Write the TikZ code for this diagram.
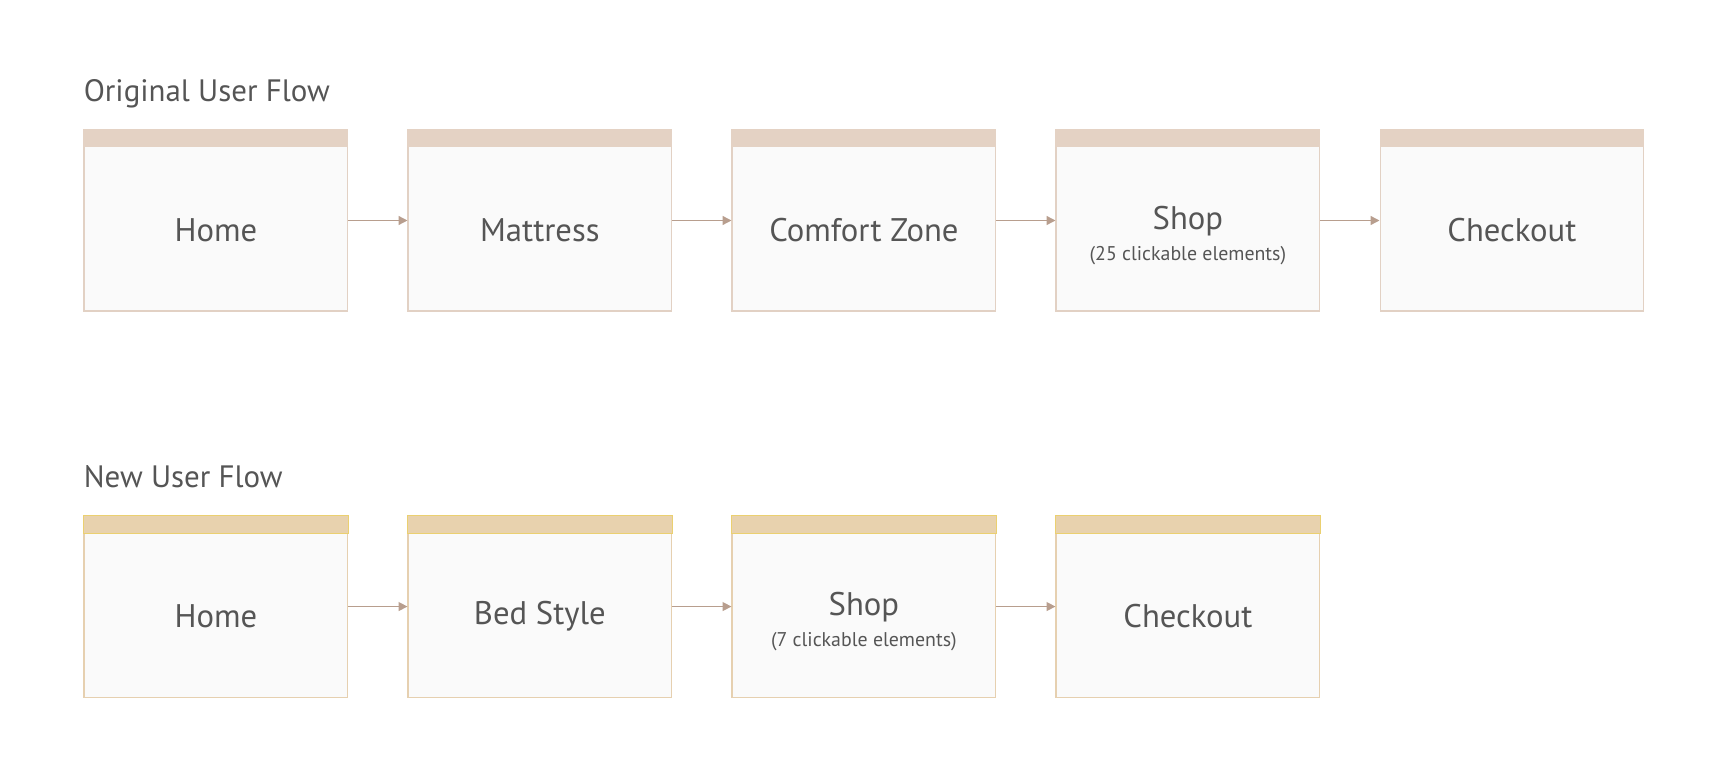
\documentclass[tikz,border=0pt]{standalone}
\usepackage{fontspec}
\setmainfont{PT Sans}
\usepackage{tikz}
\usetikzlibrary{positioning,arrows.meta}

\definecolor{ink}{HTML}{555555}
\definecolor{hdrA}{HTML}{E4D2C4}
\definecolor{brdA}{HTML}{E2D1C4}
\definecolor{hdrB}{HTML}{E8D2AE}
\definecolor{lineB}{HTML}{EBD070}
\definecolor{brdB}{HTML}{E6D0B0}
\definecolor{body}{HTML}{FAFAFA}
\definecolor{arr}{HTML}{B89E8E}
\newcommand{\clicks}[1]{\rule{0pt}{19pt}\\[-4pt]{\fontsize{11.3}{13}\selectfont #1}}

\begin{document}
\begin{tikzpicture}[screen/.style={draw=brdA,fill=body,line width=0.6pt,minimum width=5.274cm,minimum height=3.62cm,inner sep=0pt,label={[lbl]center:#1}},
		newscreen/.style={screen={#1},draw=brdB},
		lbl/.style={text=ink,font=\fontsize{18.6}{22}\selectfont,yshift=-0.2cm,align=center},
		title/.style={text=ink,font=\fontsize{17.6}{21}\selectfont,anchor=base west,inner sep=0pt},
		flow/.style={draw=arr,line width=0.8pt,-{Triangle[length=5pt,width=5pt]}},
		node distance=1.185cm]
				\useasboundingbox (0,0) rectangle (34.54,-15.68);
				
				\node[screen=Home] (a1) at (4.317,-4.41) {};
				\node[screen=Mattress] (a2) [right=of a1] {};
				\node[screen=Comfort Zone] (a3) [right=of a2] {};
				\node[screen={Shop\clicks{(25 clickable elements)}}] (a4) [right=of a3] {};
				\node[screen=Checkout] (a5) [right=of a4] {};
				
				\node[newscreen=Home] (b1) [below=4.08cm of a1] {};
				\node[newscreen=Bed Style] (b2) [right=of b1] {};
				\node[newscreen={Shop\clicks{(7 clickable elements)}}] (b3) [right=of b2] {};
				\node[newscreen=Checkout] (b4) [right=of b3] {};
				
				\node[title] (t1) at ([yshift=0.566cm]a1.north west) {Original User Flow};
				\node[title] (t2) at ([yshift=0.566cm]b1.north west) {New User Flow};
				
				% header bars
				\foreach \n in {a1,a2,a3,a4,a5}
					\fill[hdrA] (\n.north west) rectangle ([yshift=-0.354cm]\n.north east);
				\foreach \n in {b1,b2,b3,b4}
					\filldraw[fill=hdrB,draw=lineB,line width=0.6pt] (\n.north west) rectangle ([yshift=-0.354cm]\n.north east);
				
				\foreach \u/\v in {a1/a2,a2/a3,a3/a4,a4/a5,b1/b2,b2/b3,b3/b4}
					\draw[flow] (\u) -- (\v);
			\end{tikzpicture}
\end{document}
